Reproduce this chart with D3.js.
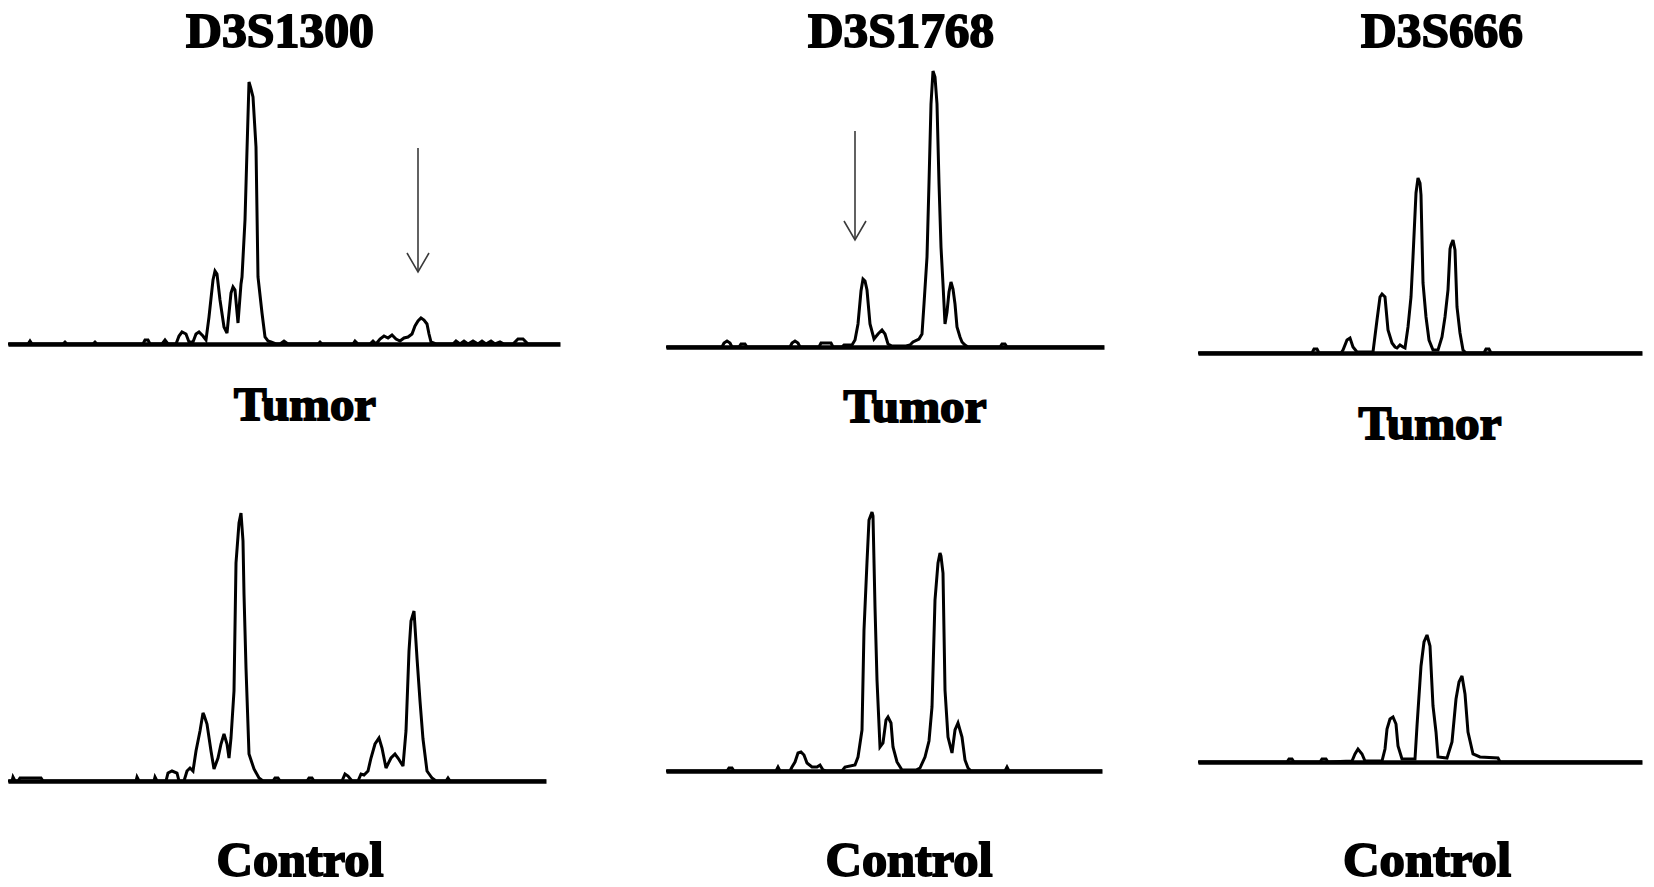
<!DOCTYPE html>
<html>
<head>
<meta charset="utf-8">
<script src="https://cdn.jsdelivr.net/npm/d3@7"></script>
<style>
  html, body { margin: 0; padding: 0; background: #fff; }
  svg { display: block; }
  text { font-family: "Liberation Serif", "Times New Roman", serif; font-weight: bold; }
</style>
</head>
<body>
<svg id="chart" width="1654" height="887"></svg>
<script>
// ---------- DATA (scan position, relative intensity) ----------
const markers = ["D3S1300", "D3S1768", "D3S666"];
const sampleLabels = ["Tumor", "Control"];

const traceD3S1300Tumor = [[0,0],[20,0],[22,3],[24,0],[55,0],[57,2],[59,0],[85,0],[87,2],[89,0],
  [135,0],[137,4],[140,4],[142,0],[154,0],[157,4],[160,0],
  [168,0],[171,8],[174,12],[178,10],[181,2],[185,2],[188,10],[191,12],[195,8],[198,4],
  [201,27],[205,64],[207,73],[209,70],[212,44],[216,17],[219,11],[223,51],[225,57],[227,54],[230,21],[233,60],[234,67],
  [237,124],[239,194],[241,262],[243,255],[245,247],[248,197],[250,67],[254,31],[257,7],[260,3],[263,2],[268,0],
  [272,0],[276,3],[280,0],[310,0],[312,2],[314,0],[345,0],[347,3],[350,0],[362,0],[365,3],[368,0],
  [372,5],[376,8],[380,6],[384,9],[388,5],[392,3],[396,6],[400,7],[404,10],[407,18],[410,23],[413,26],[416,24],[419,20],[421,10],[423,2],[428,0],
  [445,0],[448,3],[452,0],[456,3],[460,0],[465,3],[470,0],[474,3],[478,0],[483,3],[487,0],[492,2],[496,0],[505,0],[510,5],[515,5],[520,0],[552,0]];

const traceD3S1768Tumor = [[0,0],[56,0],[58,4],[61,6],[64,4],[66,0],[73,0],[75,3],[79,3],[81,0],[124,0],[126,4],[129,6],[132,4],[134,0],
  [153,0],[155,4],[165,4],[167,0],[176,0],[178,2],[186,2],[189,7],[192,23],[195,56],[197,68],[199,66],[201,57],[204,23],[208,8],
  [212,13],[216,17],[219,13],[222,3],[226,1],[240,1],[244,2],[247,5],[253,8],[256,13],[258,43],[261,90],[263,164],[265,243],[267,276],
  [269,270],[271,243],[273,164],[275,100],[277,63],[279,23],[281,35],[283,55],[285,65],[287,58],[289,43],[291,20],[294,10],[296,5],[299,2],[302,0],
  [334,0],[336,3],[339,3],[341,0],[438,0]];

const traceD3S666Tumor = [[0,0],[114,0],[116,4],[119,4],[121,0],[143,0],[145,3],[149,13],[152,15],[155,6],[159,1],[175,1],[179,33],[182,56],[184,59],
  [187,56],[190,23],[194,10],[197,6],[199,5],[202,8],[205,6],[207,5],[210,26],[213,56],[215,96],[218,160],[220,175],[222,170],[223,158],[225,70],
  [228,36],[231,13],[235,3],[240,3],[244,16],[247,36],[250,63],[252,104],[253,108],[255,113],[257,103],[259,46],[262,20],[265,3],[268,0],
  [286,0],[288,4],[291,4],[293,0],[444,0]];

const traceD3S1300Control = [[0,0],[4,0],[5,4],[7,0],[10,0],[12,3],[33,3],[35,0],[128,0],[129,4],[131,0],[146,0],[147,4],[149,0],
  [158,0],[160,8],[164,10],[169,8],[171,0],[176,0],[179,10],[182,13],[185,10],[188,30],[192,50],[195,68],[196,66],[199,57],[203,30],[206,12],
  [210,23],[213,37],[216,47],[219,37],[221,23],[223,43],[226,90],[228,218],[231,258],[233,268],[235,240],[236,187],[238,113],[241,27],[246,12],
  [251,3],[255,0],[265,0],[267,3],[270,3],[272,0],[299,0],[301,3],[304,3],[306,0],[334,0],[337,7],[340,5],[344,0],[350,0],[353,7],[356,6],
  [360,10],[363,23],[367,37],[371,43],[374,33],[378,13],[383,23],[387,27],[390,23],[395,15],[398,50],[401,130],[403,160],[406,170],[409,123],
  [412,80],[415,42],[419,10],[424,3],[428,0],[438,0],[440,3],[442,0],[538,0]];

const traceD3S1768Control = [[0,0],[61,0],[63,3],[66,3],[68,0],[110,0],[112,4],[114,0],[124,0],[126,4],[129,9],[132,18],[135,19],[138,16],[141,8],
  [146,4],[151,4],[154,6],[157,1],[160,0],[176,0],[179,4],[189,6],[192,14],[196,41],[198,141],[201,209],[203,251],[206,259],[207,255],[209,164],
  [211,91],[214,24],[217,28],[220,51],[222,54],[225,48],[227,24],[231,9],[236,1],[250,1],[254,3],[259,14],[263,30],[266,64],[269,171],[272,208],
  [274,218],[275,215],[277,198],[279,81],[282,34],[286,18],[289,41],[292,48],[296,34],[299,11],[302,3],[305,0],[339,0],[341,4],[343,0],[436,0]];

const traceD3S666Control = [[0,0],[89,0],[91,3],[94,3],[96,0],[122,0],[124,3],[128,3],[130,0],[154,1],[157,8],[160,13],[164,8],[167,1],
  [184,1],[187,13],[189,33],[192,43],[195,45],[198,38],[200,16],[204,3],[217,3],[219,36],[223,96],[226,120],[229,127],[232,116],[235,56],
  [238,30],[240,5],[249,4],[254,20],[258,63],[261,80],[264,86],[267,68],[270,30],[275,8],[282,5],[300,4],[302,0],[444,0]];

// arrows marking allelic loss: [scan position, top intensity, tip intensity]
const arrowD3S1300Tumor = [410, 196, 72];
const arrowD3S1768Tumor = [189, 216, 107];

// ---------- LAYOUT ----------
const panels = [
  { trace: traceD3S1300Tumor,   arrow: arrowD3S1300Tumor, left: 8,    width: 552, base: 344 },
  { trace: traceD3S1768Tumor,   arrow: arrowD3S1768Tumor, left: 666,  width: 438, base: 347 },
  { trace: traceD3S666Tumor,    arrow: null,              left: 1198, width: 444, base: 353 },
  { trace: traceD3S1300Control, arrow: null,              left: 8,    width: 538, base: 781 },
  { trace: traceD3S1768Control, arrow: null,              left: 666,  width: 436, base: 771 },
  { trace: traceD3S666Control,  arrow: null,              left: 1198, width: 444, base: 762 }
];

const titlePos = [ {x: 280, y: 47, len: 188}, {x: 901, y: 47, len: 186}, {x: 1442, y: 47, len: 162} ];
const tumorPos = [ {x: 305, y: 420, len: 142}, {x: 915, y: 422, len: 143}, {x: 1430, y: 439, len: 143} ];
const controlPos = [ {x: 300, y: 876, len: 167}, {x: 909, y: 876, len: 167}, {x: 1427, y: 876, len: 168} ];

const svg = d3.select("#chart");
svg.append("rect").attr("width", 1654).attr("height", 887).attr("fill", "#fff");

panels.forEach(p => {
  const maxScan = d3.max(p.trace, d => d[0]);
  const x = d3.scaleLinear().domain([0, maxScan]).range([p.left, p.left + p.width]);
  const y = d3.scaleLinear().domain([0, 300]).range([p.base, p.base - 300]);
  const g = svg.append("g");

  // baseline via axis
  const axis = d3.axisBottom(x).tickValues([]).tickSizeOuter(0);
  const ag = g.append("g").attr("transform", `translate(0,${y(0)})`).call(axis);
  ag.select(".domain").attr("stroke", "#000").attr("stroke-width", 4.5);

  const line = d3.line().x(d => x(d[0])).y(d => y(d[1])).curve(d3.curveLinear);
  g.append("path")
    .datum(p.trace)
    .attr("d", line)
    .attr("fill", "none")
    .attr("stroke", "#000")
    .attr("stroke-width", 3)
    .attr("stroke-linejoin", "miter")
    .attr("stroke-miterlimit", 3);

  if (p.arrow) {
    const [ax, aTop, aTip] = p.arrow;
    const ag2 = g.append("g").attr("stroke", "#3a3a3a").attr("stroke-width", 1.6).attr("fill", "none");
    ag2.append("line").attr("x1", x(ax)).attr("x2", x(ax)).attr("y1", y(aTop)).attr("y2", y(aTip));
    ag2.append("path").attr("d", `M${x(ax) - 11},${y(aTip) - 19} L${x(ax)},${y(aTip)} L${x(ax) + 11},${y(aTip) - 19}`);
  }
});

function label(txt, pos, size) {
  svg.append("text")
    .attr("x", pos.x).attr("y", pos.y)
    .attr("text-anchor", "middle")
    .attr("font-size", size)
    .attr("textLength", pos.len)
    .attr("lengthAdjust", "spacingAndGlyphs")
    .attr("fill", "#000")
    .attr("stroke", "#000")
    .attr("stroke-width", 1.8)
    .text(txt);
}
markers.forEach((m, i) => label(m, titlePos[i], 48));
markers.forEach((m, i) => label(sampleLabels[0], tumorPos[i], 46));
markers.forEach((m, i) => label(sampleLabels[1], controlPos[i], 48));
</script>
</body>
</html>
